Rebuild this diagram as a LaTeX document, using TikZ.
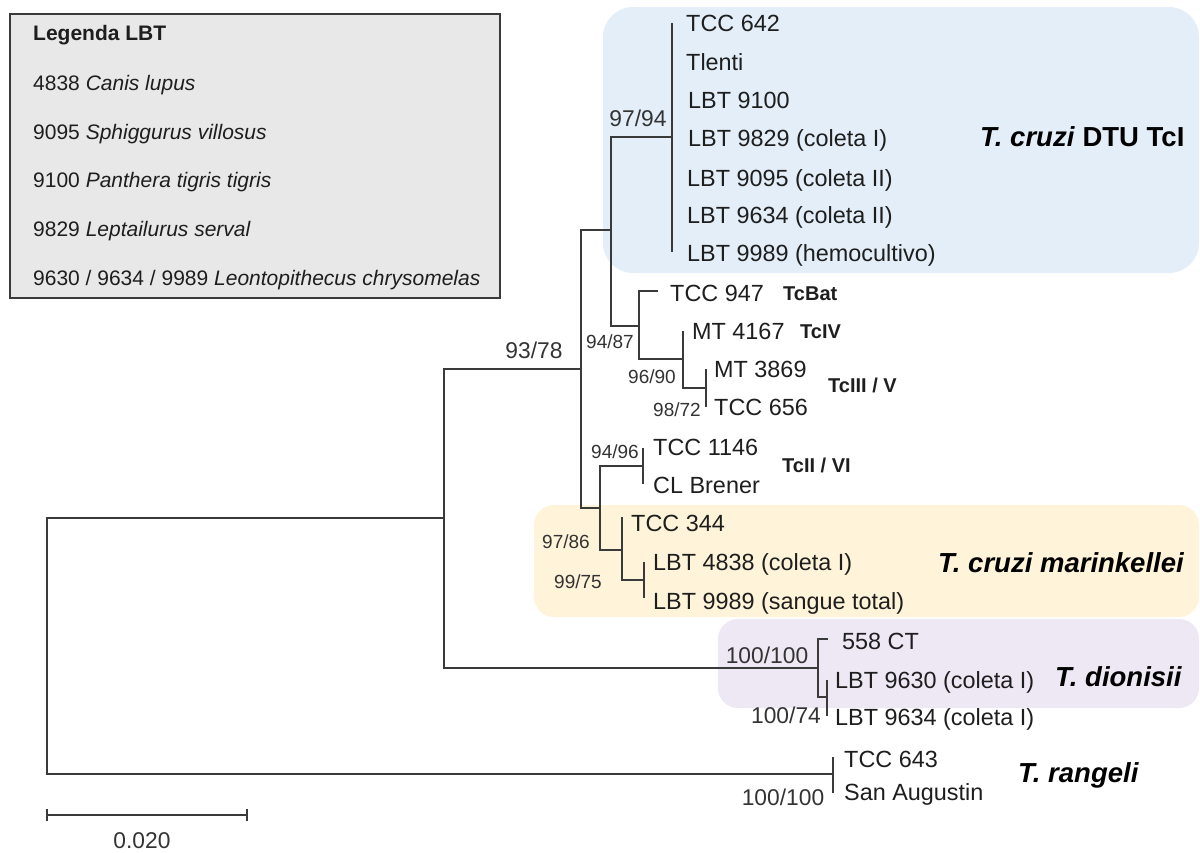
\documentclass[tikz,border=0pt]{standalone}
\usepackage{fontspec}
\setmainfont{Liberation Sans}
\newcommand\myfs[1]{\fontsize{#1}{#1}\selectfont}
\definecolor{txtc}{HTML}{1E1E1E}
\definecolor{bsc}{HTML}{333333}
\definecolor{linec}{HTML}{3A3A3A}
\definecolor{bluebg}{HTML}{E3EEF8}
\definecolor{yellowbg}{HTML}{FFF4D9}
\definecolor{lilacbg}{HTML}{EDE8F4}
\definecolor{legbg}{HTML}{E8E8E8}
\tikzset{
  tx/.style={anchor=west, inner sep=0pt, text=txtc, font=\myfs{23.4}, text height=16.8pt, text depth=0pt},
  leg/.style={anchor=west, inner sep=0pt, text=txtc, font=\myfs{21}, text height=15pt, text depth=0pt},
  dtu/.style={anchor=west, inner sep=0pt, text=txtc, font=\myfs{20}\bfseries, text height=14.4pt, text depth=0pt},
  grp/.style={anchor=west, inner sep=0pt, text=black, font=\myfs{27.5}\bfseries, text height=19.8pt, text depth=0pt},
  bsl/.style={inner sep=0pt, text=bsc, font=\myfs{22.8}, text height=16.3pt, text depth=0pt},
  bss/.style={inner sep=0pt, text=bsc, font=\myfs{19}, text height=13.6pt, text depth=0pt},
  br/.style={draw=linec, line width=1.8pt},
}
\begin{document}
\begin{tikzpicture}[x=1pt,y=-1pt]
\useasboundingbox (0,0) rectangle (1200,852);
% background boxes
\fill[bluebg, rounded corners=30pt] (603,7) rectangle (1199,273);
\fill[yellowbg, rounded corners=20pt] (534,505) rectangle (1199,617);
\fill[lilacbg, rounded corners=20pt] (718,619) rectangle (1199,708);
% legend
\draw[fill=legbg, draw=linec, line width=1.5pt] (10,14) rectangle (500,298);
\node[leg, font=\myfs{21}\bfseries] (lg0) at (33,33) {Legenda LBT};
\node[leg] (lg1) at (33,83) {4838 \textit{Canis lupus}};
\node[leg] (lg2) at (33,132) {9095 \textit{Sphiggurus villosus}};
\node[leg] (lg3) at (33,180) {9100 \textit{Panthera tigris tigris}};
\node[leg] (lg4) at (33,229) {9829 \textit{Leptailurus serval}};
\node[leg] (lg5) at (33,278) {9630 / 9634 / 9989 \textit{Leontopithecus chrysomelas}};
% internal nodes
\coordinate (R) at (47,645);
\coordinate (A) at (444,518);
\coordinate (M) at (833,774);
\coordinate (B) at (581,369);
\coordinate (K) at (818,668);
\coordinate (C) at (611,230);
\coordinate (G) at (600,508);
\coordinate (T1) at (672,137);
\coordinate (D) at (639,326);
\coordinate (E) at (683,359);
\coordinate (F) at (706,388);
\coordinate (H) at (643,466);
\coordinate (I) at (622,550);
\coordinate (J) at (644,580);
\coordinate (L) at (827,697);
% tips
\coordinate (a1) at (672,23);
\coordinate (a2) at (672,62);
\coordinate (a3) at (672,100);
\coordinate (a4) at (672,138);
\coordinate (a5) at (672,178);
\coordinate (a6) at (672,215);
\coordinate (a7) at (672,252);
\coordinate (b1) at (658,291);
\coordinate (b2) at (683,331);
\coordinate (b3) at (706,369);
\coordinate (b4) at (706,407);
\coordinate (c1) at (643,448);
\coordinate (c2) at (643,484);
\coordinate (c3) at (622,517);
\coordinate (c4) at (644,562);
\coordinate (c5) at (644,598);
\coordinate (d1) at (828,639);
\coordinate (d2) at (827,680);
\coordinate (d3) at (827,716);
\coordinate (e1) at (833,757);
\coordinate (e2) at (833,793);
% branches
\draw[br] (R) |- (A);
\draw[br] (R) |- (M);
\draw[br] (A) |- (B);
\draw[br] (A) |- (K);
\draw[br] (B) |- (C);
\draw[br] (B) |- (G);
\draw[br] (C) |- (T1);
\draw[br] (C) |- (D);
\draw[br] (a1) -- (a7);
\draw[br] (D) |- (b1);
\draw[br] (D) |- (E);
\draw[br] (E) |- (b2);
\draw[br] (E) |- (F);
\draw[br] (b3) -- (b4);
\draw[br] (G) |- (H);
\draw[br] (G) |- (I);
\draw[br] (c1) -- (c2);
\draw[br] (I) |- (c3);
\draw[br] (I) |- (J);
\draw[br] (c4) -- (c5);
\draw[br] (K) |- (d1);
\draw[br] (K) |- (L);
\draw[br] (d2) -- (d3);
\draw[br] (e1) -- (e2);
% taxa
\node[tx] (n1) at (686,23) {TCC 642};
\node[tx] (n2) at (686,62) {Tlenti};
\node[tx] (n3) at (688,100) {LBT 9100};
\node[tx] (n4) at (688,138) {LBT 9829 (coleta I)};
\node[tx] (n5) at (687,178) {LBT 9095 (coleta II)};
\node[tx] (n6) at (687,215) {LBT 9634 (coleta II)};
\node[tx] (n7) at (687,253) {LBT 9989 (hemocultivo)};
\node[tx] (n8) at (670,293) {TCC 947};
\node[tx] (n9) at (692,331) {MT 4167};
\node[tx] (n10) at (714,369) {MT 3869};
\node[tx] (n11) at (714,407) {TCC 656};
\node[tx] (n12) at (653,447) {TCC 1146};
\node[tx] (n13) at (653,485) {CL Brener};
\node[tx] (n14) at (631,523) {TCC 344};
\node[tx] (n15) at (653,562) {LBT 4838 (coleta I)};
\node[tx] (n16) at (653,601) {LBT 9989 (sangue total)};
\node[tx] (n17) at (842,641) {558 CT};
\node[tx] (n18) at (835,680) {LBT 9630 (coleta I)};
\node[tx] (n19) at (835,717) {LBT 9634 (coleta I)};
\node[tx] (n20) at (844,759) {TCC 643};
\node[tx] (n21) at (844,792) {San Augustin};
% DTU labels
\node[dtu] (u1) at (783,293) {TcBat};
\node[dtu] (u2) at (800,331) {TcIV};
\node[dtu] (u3) at (828,385) {TcIII / V};
\node[dtu] (u4) at (782,465) {TcII / VI};
% group labels
\node[grp] (g1) at (980,137) {\textit{T. cruzi} DTU TcI};
\node[grp] (g2) at (938,563) {\textit{T. cruzi marinkellei}};
\node[grp] (g3) at (1055,677) {\textit{T. dionisii}};
\node[grp] (g4) at (1018,773) {\textit{T. rangeli}};
% bootstrap values
\node[bsl] (s1) at (638,118) {97/94};
\node[bsl] (s2) at (534,350) {93/78};
\node[bss] (s3) at (610,342) {94/87};
\node[bss] (s4) at (652,377) {96/90};
\node[bss] (s5) at (677,410) {98/72};
\node[bss] (s6) at (615,452) {94/96};
\node[bss] (s7) at (566,542) {97/86};
\node[bss] (s8) at (578,582) {99/75};
\node[bsl] (s9) at (767,655) {100/100};
\node[bsl] (s10) at (786,715) {100/74};
\node[bsl] (s11) at (783,797) {100/100};
% scale bar
\coordinate (sb1) at (47,815);
\coordinate (sb2) at (247,815);
\draw[br] (sb1) -- (sb2);
\draw[br] ([yshift=-6pt]sb1) -- ([yshift=6pt]sb1);
\draw[br] ([yshift=-6pt]sb2) -- ([yshift=6pt]sb2);
\node[bsl] (sbl) at (142,840) {0.020};
\end{tikzpicture}
\end{document}
